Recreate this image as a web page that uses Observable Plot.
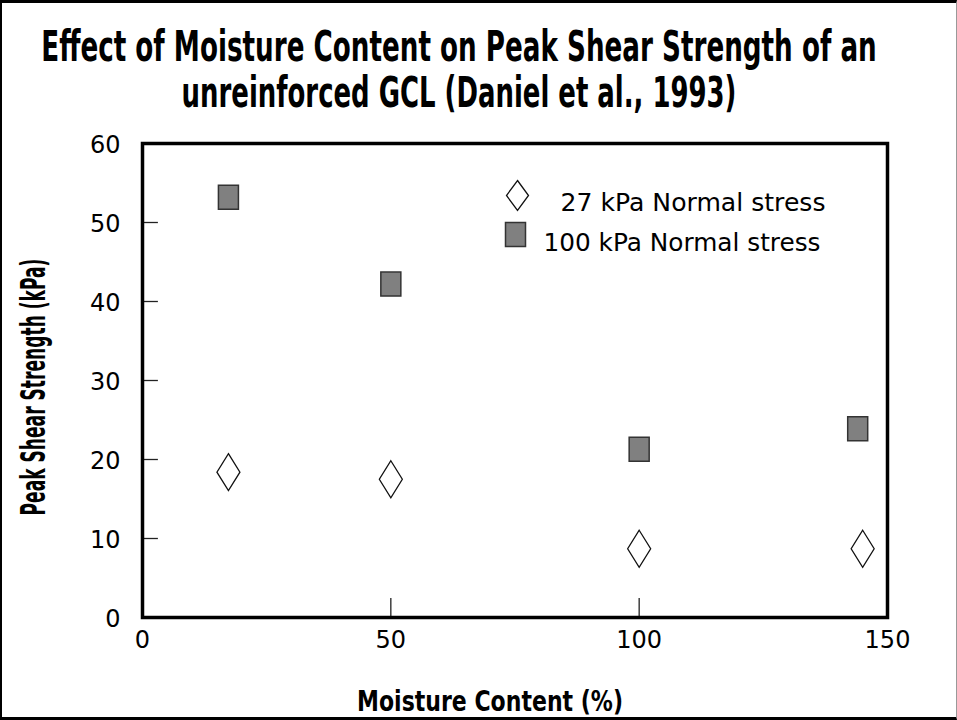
<!DOCTYPE html>
<html>
<head>
<meta charset="utf-8">
<script src="https://cdn.jsdelivr.net/npm/d3@7"></script>
<script src="https://cdn.jsdelivr.net/npm/@observablehq/plot@0.6"></script>
<style>
  html, body { margin: 0; padding: 0; background: #fff; }
  #wrap { position: relative; width: 957px; height: 720px; overflow: hidden; background: #fff; }
  #wrap svg { position: absolute; left: 0; top: 0; }
  #border { position: absolute; left: 0; top: 0; width: 957px; height: 720px; box-sizing: border-box;
            border-top: 3px solid #000; border-left: 2px solid #000; border-bottom: 3px solid #000; border-right: 1px solid #999; pointer-events: none; }
</style>
</head>
<body>
<div id="wrap"></div>
<script>
// ---- data ----
const titleLines = ["Effect of Moisture Content on Peak Shear Strength of an", "unreinforced GCL (Daniel et al., 1993)"];
const xLabel = "Moisture Content (%)";
const yLabel = "Peak Shear Strength (kPa)";
const seriesNames = ["27 kPa Normal stress", "100 kPa Normal stress"];
const moisture27 = [17.3, 50, 100, 145];
const strength27 = [18.4, 17.5, 8.7, 8.7];
const moisture100 = [17.3, 50, 100, 144];
const strength100 = [53.2, 42.2, 21.3, 23.9];
const xTicks = [0, 50, 100, 150];
const yTicks = [0, 10, 20, 30, 40, 50, 60];

const pts27 = moisture27.map((m, i) => ({m, s: strength27[i]}));
const pts100 = moisture100.map((m, i) => ({m, s: strength100[i]}));

// custom symbols
const tallDiamond = {draw(ctx) { ctx.moveTo(0, -18.5); ctx.lineTo(11.5, 0); ctx.lineTo(0, 18.5); ctx.lineTo(-11.5, 0); ctx.closePath(); }};
const legendDiamond = {draw(ctx) { ctx.moveTo(0, -15); ctx.lineTo(11, 0); ctx.lineTo(0, 15); ctx.lineTo(-11, 0); ctx.closePath(); }};
const rectSym = {draw(ctx) { ctx.rect(-10, -12, 20, 24); }};

const narrow = "'Liberation Sans Narrow', 'DejaVu Sans Condensed', 'Arial Narrow', sans-serif";

const chart = Plot.plot({
  width: 957,
  height: 720,
  marginTop: 143,
  marginBottom: 103,
  marginLeft: 142,
  marginRight: 70,
  style: {fontFamily: "'DejaVu Sans', sans-serif", background: "transparent", color: "#000"},
  x: {domain: [0, 150]},
  y: {domain: [0, 60]},
  marks: [
    Plot.axisY({ticks: yTicks, tickSize: 0, tickPadding: 22, fontSize: 24, label: null, dy: 2}),
    Plot.axisX({ticks: xTicks, tickSize: 0, tickPadding: 13, fontSize: 24, label: null}),
    Plot.ruleY(yTicks.slice(1, -1), {x1: 0, x2: 3.2, stroke: "#222", strokeWidth: 1.3}),
    Plot.ruleX(xTicks.slice(1, -1), {y1: 0, y2: 2.4, stroke: "#222", strokeWidth: 1.3}),
    Plot.frame({stroke: "#000", strokeWidth: 3.5}),
    Plot.dot(pts27, {x: "m", y: "s", symbol: tallDiamond, fill: "#fff", stroke: "#111", strokeWidth: 1.3}),
    Plot.dot(pts100, {x: "m", y: "s", symbol: rectSym, fill: "#808080", stroke: "#333", strokeWidth: 1.5}),
    // legend
    Plot.dot([seriesNames[0]], {frameAnchor: "top-left", dx: 375, dy: 52, symbol: legendDiamond, fill: "#fff", stroke: "#111", strokeWidth: 1.3}),
    Plot.dot([seriesNames[1]], {frameAnchor: "top-left", dx: 373, dy: 91, symbol: rectSym, fill: "#808080", stroke: "#333", strokeWidth: 1.5}),
    Plot.text([seriesNames[0]], {frameAnchor: "top-left", text: d => d, dx: 418, dy: 50, textAnchor: "start", fontSize: 25}),
    Plot.text([seriesNames[1]], {frameAnchor: "top-left", text: d => d, dx: 401, dy: 90, textAnchor: "start", fontSize: 25}),
    // axis labels
    Plot.text([xLabel], {frameAnchor: "bottom", text: d => d, dx: -25, dy: 93, fontSize: 28, fontWeight: "bold", fontFamily: narrow}),
    Plot.text([yLabel], {frameAnchor: "bottom-left", text: d => d, dx: -98, dy: -102, rotate: -90, textAnchor: "start", fontSize: 34, fontWeight: "bold", fontFamily: narrow})
  ]
});

const wrap = document.getElementById("wrap");
wrap.appendChild(chart);

// fit a text to a target width by font size, keeping its height with a vertical scale
function fitText(el, w, baseSize) {
  el.style.fontSize = baseSize + "px";
  const L = el.getComputedTextLength();
  const nf = baseSize * w / L;
  el.style.fontSize = nf + "px";
  const k = baseSize / nf;
  const t = el.getAttribute("transform") || "";
  el.setAttribute("transform", (t + ` scale(1,${k})`).trim());
}

// title
const tsvg = d3.select(wrap).append("svg").attr("width", 957).attr("height", 130);
const tpos = [{y: 61, w: 836}, {y: 107, w: 555}];
titleLines.forEach((t, i) => {
  const el = tsvg.append("text").attr("x", 0).attr("y", 0).attr("text-anchor", "middle")
    .attr("transform", `translate(459,${tpos[i].y})`)
    .attr("font-family", narrow).attr("font-weight", "bold").text(t).node();
  fitText(el, tpos[i].w, 42);
});

const sizes = {[xLabel]: [266, 28], [yLabel]: [257, 34]};
const legendFit = {[seriesNames[0]]: 265, [seriesNames[1]]: 277};
d3.select(chart).selectAll("text").each(function() {
  const s = sizes[this.textContent];
  if (s) fitText(this, s[0], s[1]);
  const w = legendFit[this.textContent];
  if (w) { this.setAttribute("textLength", w); this.setAttribute("lengthAdjust", "spacingAndGlyphs"); }
});

const b = document.createElement("div");
b.id = "border";
wrap.appendChild(b);
</script>
</body>
</html>
